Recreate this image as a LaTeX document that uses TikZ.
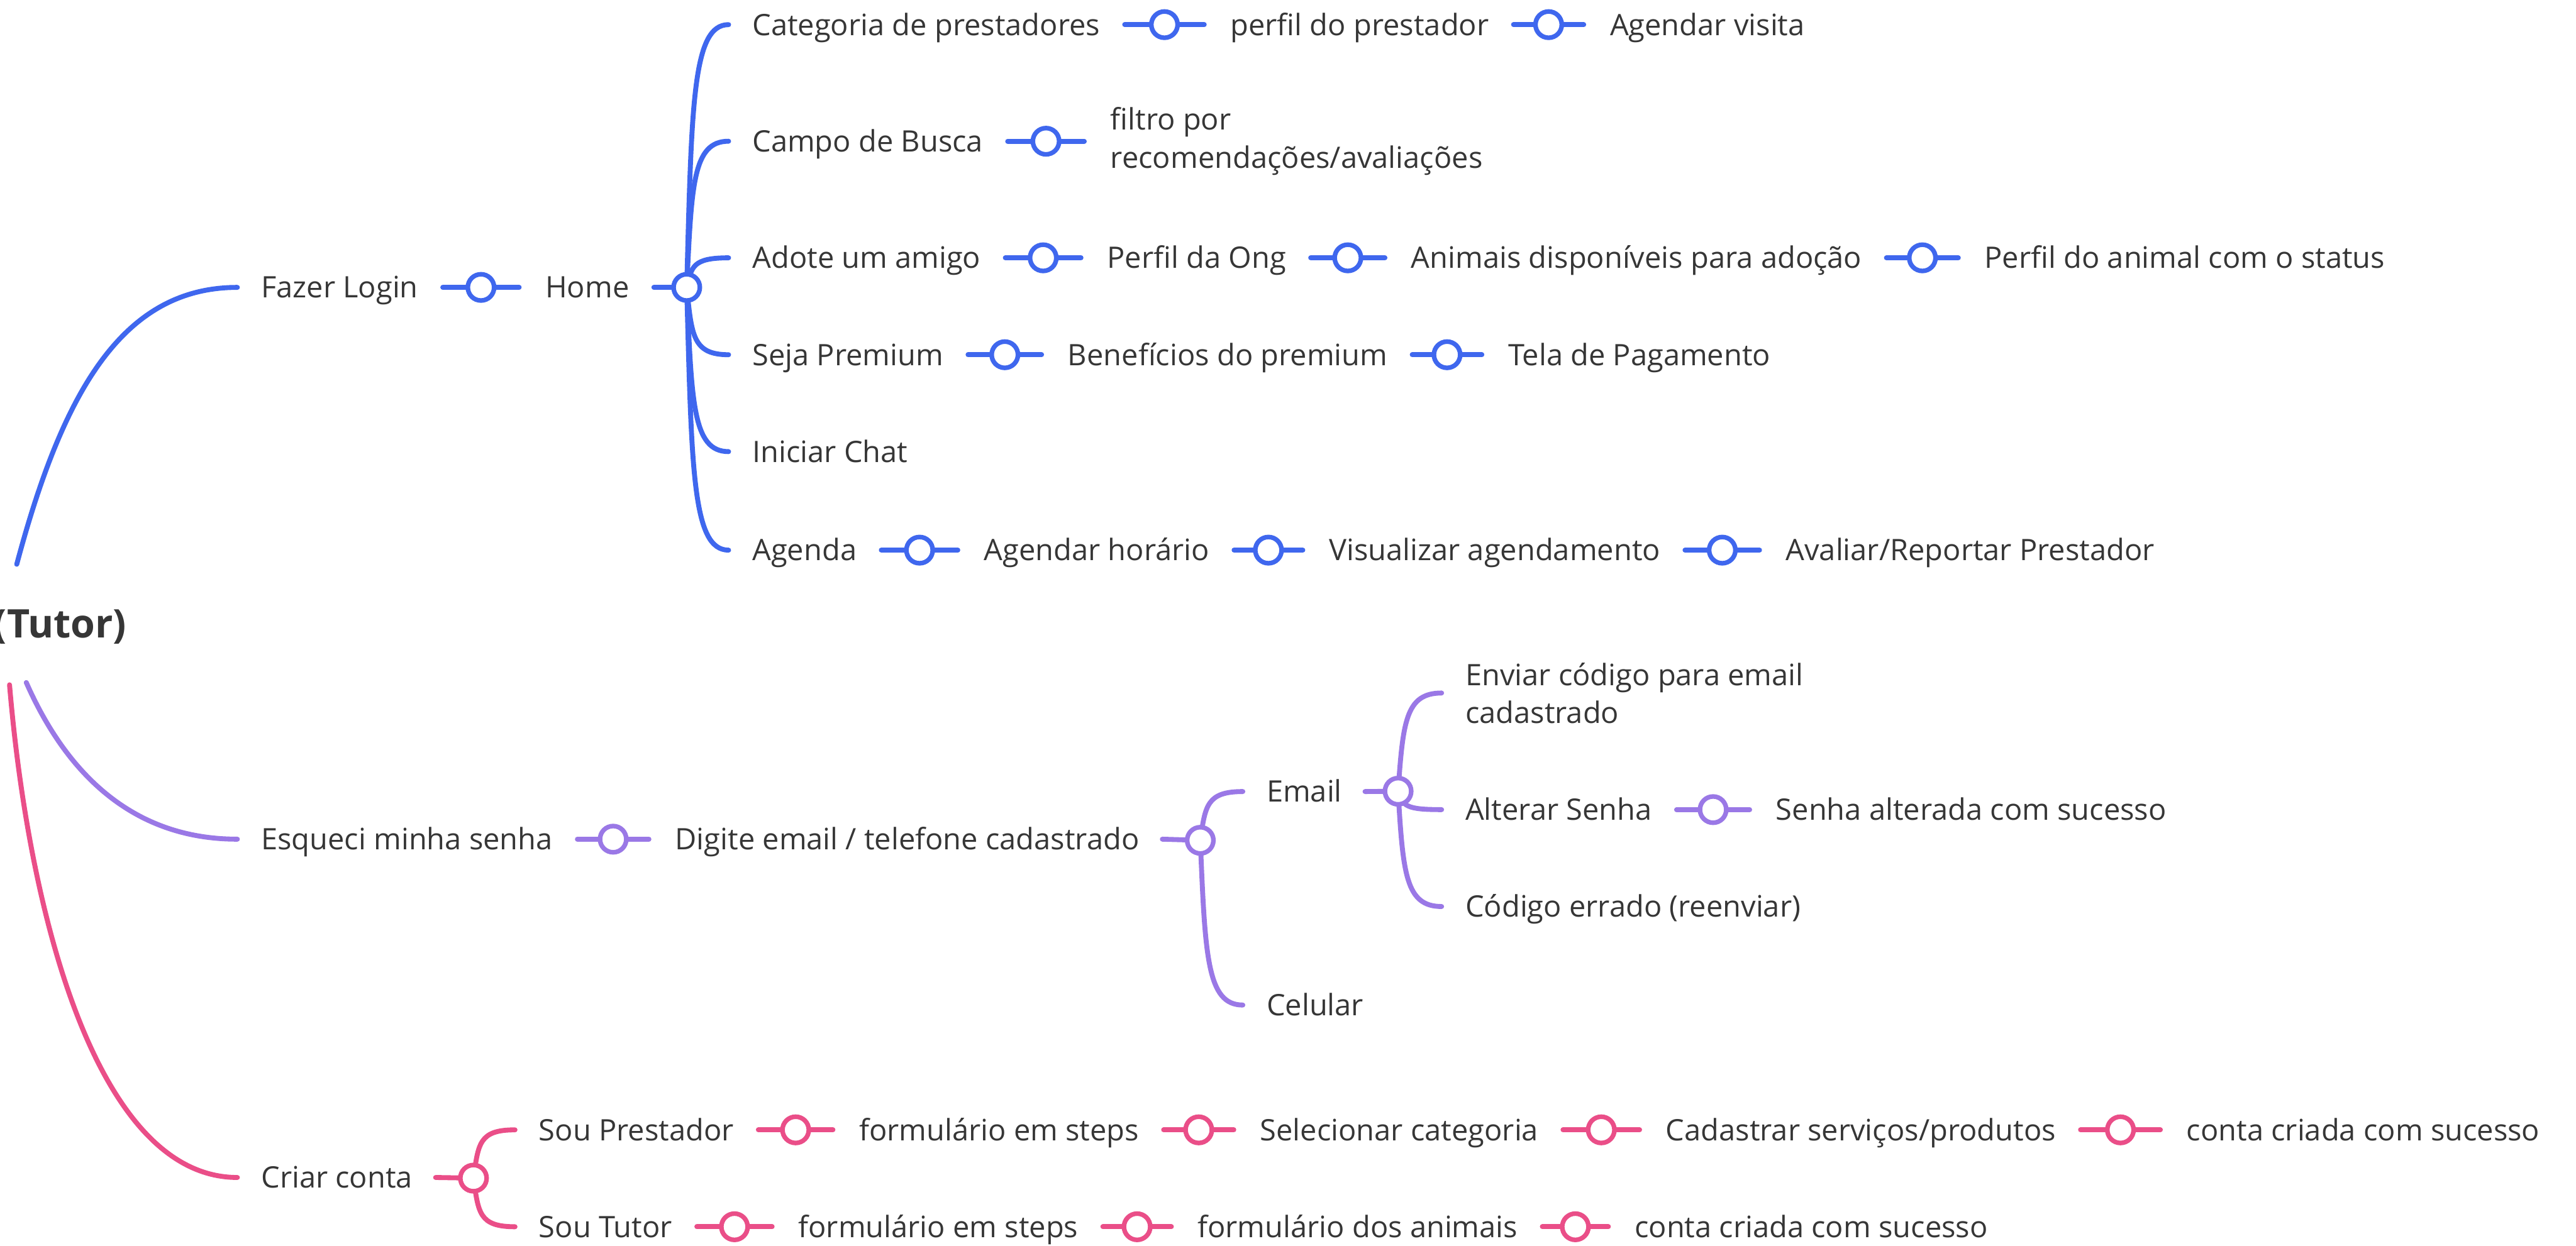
\documentclass[tikz,border=0pt]{standalone}
\usepackage{fontspec}
\setmainfont{Open Sans}
\usetikzlibrary{calc}

\definecolor{mblue}{HTML}{3F67EE}
\definecolor{mpurple}{HTML}{9A78E6}
\definecolor{mpink}{HTML}{EA4E88}
\definecolor{ink}{HTML}{363636}

\tikzset{
  lbl/.style={anchor=west, inner sep=0pt, outer sep=0pt, text=ink,
    font=\fontsize{18bp}{23bp}\selectfont, text height=12.9bp, text depth=0pt},
  lbltwo/.style={anchor=west, inner sep=0pt, outer sep=0pt, text=ink,
    font=\fontsize{18bp}{23bp}\selectfont, align=left},
  edge/.style={line width=3bp, line cap=round},
  ring/.style={circle, draw, fill=white, line width=2.8bp, minimum size=16bp, inner sep=0pt},
}

% a straight link with a ring in its middle, between two labels
\newcommand\seqlink[3]{\draw[edge,#1] ([xshift=15bp]#2.east) -- node[ring,draw=#1]{} ([xshift=-16bp]#3.west);}
% a curved branch from a hub to a child label
\newcommand\branch[4]{\draw[edge,#1] (#2) .. controls +(3,#4) and +(-22,0) .. ([xshift=-14.5bp]#3.west);}

\begin{document}
\begin{tikzpicture}[x=1bp,y=-1bp]
\useasboundingbox (0,0) rectangle (1568,758.46);
\fill[white] (0,0) rectangle (1568,758.46);
\clip (0,0) rectangle (1568,758.46);

% ---------- root ----------
\node[anchor=east, inner sep=0pt, outer sep=0pt, text=ink,
  font=\fontsize{24bp}{29bp}\selectfont\bfseries, text height=17bp, text depth=0pt]
  (root) at (77,380) {(Tutor)};
\coordinate (rootN) at (10.2,343.6);
\coordinate (rootSp) at (16,415.6);
\coordinate (rootSk) at (5.8,417);

% ---------- labels: login branch ----------
\node[lbl] (fazer)   at (159,175) {Fazer Login};
\node[lbl] (home)    at (332,175) {Home};
\coordinate (hubH) at (418,175);

\node[lbl] (cat)     at (458,15)  {Categoria de prestadores};
\node[lbl] (perfp)   at (749,15)  {perfil do prestador};
\node[lbl] (agvis)   at (980,15)  {Agendar visita};

\node[lbl] (campo)   at (458,86)  {Campo de Busca};
\node[lbltwo] (filtro) at (676,86) {filtro por\\recomendações/avaliações};

\node[lbl] (adote)   at (458,157) {Adote um amigo};
\node[lbl] (ong)     at (674,157) {Perfil da Ong};
\node[lbl] (anim)    at (859,157) {Animais disponíveis para adoção};
\node[lbl] (perfa)   at (1208,157) {Perfil do animal com o status};

\node[lbl] (prem)    at (458,216) {Seja Premium};
\node[lbl] (benef)   at (650,216) {Benefícios do premium};
\node[lbl] (pagto)   at (918,216) {Tela de Pagamento};

\node[lbl] (chat)    at (458,275) {Iniciar Chat};

\node[lbl] (agenda)  at (458,335) {Agenda};
\node[lbl] (aghor)   at (599,335) {Agendar horário};
\node[lbl] (visu)    at (809,335) {Visualizar agendamento};
\node[lbl] (aval)    at (1087,335) {Avaliar/Reportar Prestador};

% ---------- labels: password branch ----------
\node[lbl] (esq)     at (159,511) {Esqueci minha senha};
\node[lbl] (digite)  at (411,511) {Digite email / telefone cadastrado};
\coordinate (hubD) at (730.6,511.7);
\node[lbl] (email)   at (771,482) {Email};
\node[lbl] (cel)     at (771,612) {Celular};
\coordinate (hubE) at (851,481.8);
\node[lbltwo] (envia) at (892,422) {Enviar código para email\\cadastrado};
\node[lbl] (alt)     at (892,493) {Alterar Senha};
\node[lbl] (altok)   at (1081,493) {Senha alterada com sucesso};
\node[lbl] (cod)     at (892,552) {Código errado (reenviar)};

% ---------- labels: sign-up branch ----------
\node[lbl] (criar)   at (159,717) {Criar conta};
\coordinate (hubC) at (288.2,717.4);
\node[lbl] (sprest)  at (328,688) {Sou Prestador};
\node[lbl] (form1)   at (523,688) {formulário em steps};
\node[lbl] (selcat)  at (767,688) {Selecionar categoria};
\node[lbl] (cadserv) at (1014,688) {Cadastrar serviços/produtos};
\node[lbl] (okp)     at (1331,688) {conta criada com sucesso};
\node[lbl] (stutor)  at (328,747) {Sou Tutor};
\node[lbl] (form2)   at (486,747) {formulário em steps};
\node[lbl] (formani) at (729,747) {formulário dos animais};
\node[lbl] (okt)     at (995,747) {conta criada com sucesso};

% ---------- root branches ----------
\draw[edge,mblue]   (rootN)  .. controls +(28,-105) and +(-70,0) .. ([xshift=-14.5bp]fazer.west);
\draw[edge,mpurple] (rootSp) .. controls +(24,54.4) and +(-64.6,0) .. ([xshift=-14.5bp]esq.west);
\draw[edge,mpink]   (rootSk) .. controls +(12,143) and +(-84.6,0) .. ([xshift=-14.5bp]criar.west);

% ---------- login branch connectors ----------
\seqlink{mblue}{fazer}{home}
\draw[edge,mblue] ([xshift=15bp]home.east) -- (hubH);
\branch{mblue}{hubH}{cat}{-112}
\branch{mblue}{hubH}{campo}{-62}
\branch{mblue}{hubH}{adote}{-12.6}
\branch{mblue}{hubH}{prem}{29}
\branch{mblue}{hubH}{chat}{70}
\branch{mblue}{hubH}{agenda}{112}
\node[ring,draw=mblue] at (hubH) {};
\seqlink{mblue}{cat}{perfp}
\seqlink{mblue}{perfp}{agvis}
\seqlink{mblue}{campo}{filtro}
\seqlink{mblue}{adote}{ong}
\seqlink{mblue}{ong}{anim}
\seqlink{mblue}{anim}{perfa}
\seqlink{mblue}{prem}{benef}
\seqlink{mblue}{benef}{pagto}
\seqlink{mblue}{agenda}{aghor}
\seqlink{mblue}{aghor}{visu}
\seqlink{mblue}{visu}{aval}

% ---------- password branch connectors ----------
\seqlink{mpurple}{esq}{digite}
\draw[edge,mpurple] ([xshift=14bp]digite.east) -- (hubD);
\branch{mpurple}{hubD}{email}{-21}
\branch{mpurple}{hubD}{cel}{70}
\node[ring,draw=mpurple] at (hubD) {};
\draw[edge,mpurple] ([xshift=14bp]email.east) -- (hubE);
\branch{mpurple}{hubE}{envia}{-42}
\branch{mpurple}{hubE}{alt}{9}
\branch{mpurple}{hubE}{cod}{50}
\node[ring,draw=mpurple] at (hubE) {};
\seqlink{mpurple}{alt}{altok}

% ---------- sign-up branch connectors ----------
\draw[edge,mpink] ([xshift=14bp]criar.east) -- (hubC);
\branch{mpink}{hubC}{sprest}{-21}
\branch{mpink}{hubC}{stutor}{21}
\node[ring,draw=mpink] at (hubC) {};
\seqlink{mpink}{sprest}{form1}
\seqlink{mpink}{form1}{selcat}
\seqlink{mpink}{selcat}{cadserv}
\seqlink{mpink}{cadserv}{okp}
\seqlink{mpink}{stutor}{form2}
\seqlink{mpink}{form2}{formani}
\seqlink{mpink}{formani}{okt}
\end{tikzpicture}
\end{document}
